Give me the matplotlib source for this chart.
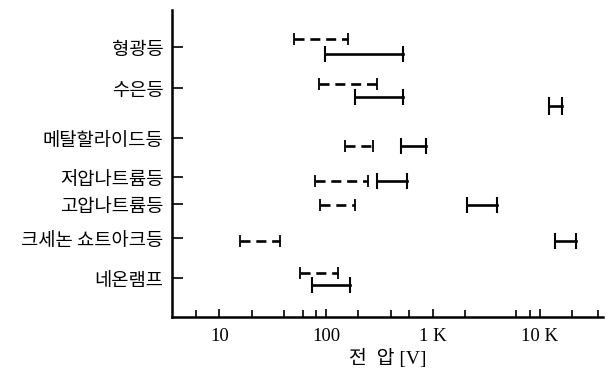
import matplotlib.pyplot as plt
from matplotlib.ticker import FixedLocator, NullFormatter

# lamp types
lamps = ['형광등', '수은등', '메탈할라이드등', '저압나트륨등', '고압나트륨등',
         '크세논 쇼트아크등', '네온램프']

# dashed ranges [V] (low, high)
dash_lo = [50, 86, 150, 78, 88, 15.5, 57]
dash_hi = [160, 300, 275, 245, 185, 37, 128]

# solid ranges [V] (low, high)
solid_lo = [97, 185, 500, 300, 2100, 13800, 73]
solid_hi = [520, 520, 850, 570, 3950, 22000, 168]

# extra solid range for 수은등
extra_lo = [12100]
extra_hi = [16000]

# layout: row positions (top = small) and offsets of the bars
row_y = [47, 88, 138, 177, 204, 238, 278]
dash_off = [-8, -4, 8, 4, 1, 3, -5]
solid_off = [7, 9, 8, 4, 1, 3, 7]
extra_y = [106]

plt.rcParams['font.family'] = ['Noto Sans CJK KR', 'DejaVu Sans']

fig = plt.figure(figsize=(6.09, 3.75), dpi=100)
ax = fig.add_axes([172 / 609, 58 / 375, 431 / 609, 307 / 375])

lw = 1.9
for i in range(len(lamps)):
    yd = row_y[i] + dash_off[i]
    ax.plot([dash_lo[i], dash_hi[i]], [yd, yd], color='black', lw=lw,
            ls=(0, (3.8, 2.2)))
    ax.plot([dash_lo[i], dash_hi[i]], [yd, yd], ls='none', marker='|',
            ms=9, mew=1.3, color='black')
    ys = row_y[i] + solid_off[i]
    ax.plot([solid_lo[i], solid_hi[i]], [ys, ys], color='black', lw=lw,
            marker='|', ms=11, mew=1.5)

for lo, hi, y in zip(extra_lo, extra_hi, extra_y):
    ax.plot([lo, hi], [y, y], color='black', lw=lw, marker='|', ms=13, mew=1.5)

ax.set_xscale('log')
ax.set_xlim(3.6, 39000)
ax.set_ylim(317, 10)

ax.xaxis.set_major_locator(FixedLocator([10, 100, 1000, 10000]))
ax.xaxis.set_minor_locator(FixedLocator([6, 20, 40, 60, 80, 200, 400, 600,
                                         2000, 6000, 8000, 20000, 35000]))
ax.xaxis.set_minor_formatter(NullFormatter())
ax.set_xticklabels(['10', '100', '1 K', '10 K'], family='Liberation Serif',
                   fontsize=13.5)

ax.set_yticks(row_y)
ax.set_yticklabels(lamps, fontsize=13.5)

ax.tick_params(axis='both', which='both', direction='in', width=1.2)
ax.tick_params(axis='y', length=8, pad=6)
ax.tick_params(axis='x', which='major', length=6, pad=8)
ax.tick_params(axis='x', which='minor', length=5)

for side in ['top', 'right']:
    ax.spines[side].set_visible(False)
for side in ['left', 'bottom']:
    ax.spines[side].set_linewidth(1.8)

ax.set_xlabel('전  압 [V]', family=['Liberation Serif', 'Noto Sans CJK KR'],
              fontsize=14, labelpad=3)

plt.savefig('out.png', dpi=100)
